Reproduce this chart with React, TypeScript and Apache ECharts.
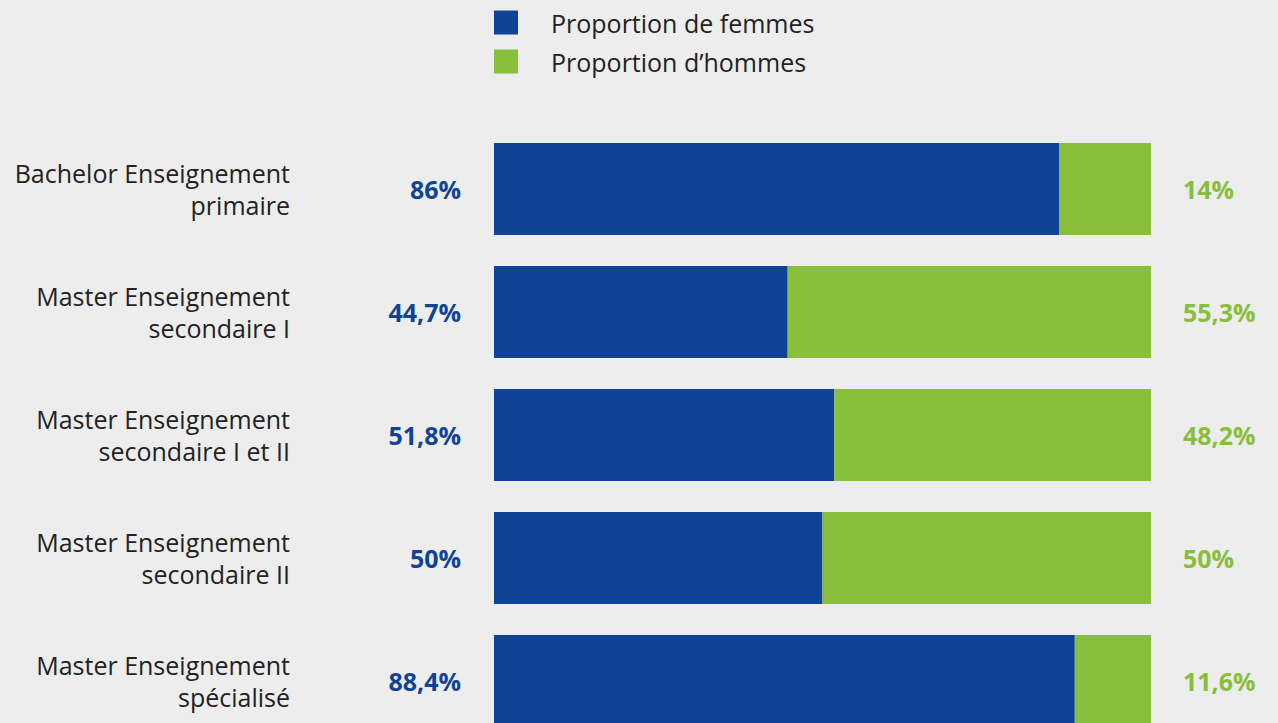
import React, { useEffect, useRef } from "react";
import * as echarts from "echarts";

const categories = [
  "Bachelor Enseignement\nprimaire",
  "Master Enseignement\nsecondaire I",
  "Master Enseignement\nsecondaire I et II",
  "Master Enseignement\nsecondaire II",
  "Master Enseignement\nspécialisé",
];
const femmes = [86, 44.7, 51.8, 50, 88.4];
const hommes = [14, 55.3, 48.2, 50, 11.6];
const seriesNames = ["Proportion de femmes", "Proportion d’hommes"];

const BLUE = "#0f4395";
const GREEN = "#87be3a";
const FONT = "'Open Sans', 'Noto Sans', sans-serif";

const fmt = (v: number) => String(v).replace(".", ",") + "%";

export default function App() {
  const ref = useRef<HTMLDivElement>(null);
  useEffect(() => {
    document.body.style.margin = "0";
    const chart = echarts.init(ref.current!, null, { renderer: "svg" });
    chart.setOption({
      animation: false,
      backgroundColor: "#ededed",
      legend: {
        orient: "vertical",
        left: 494,
        top: 10,
        padding: 0,
        itemWidth: 24,
        itemHeight: 24,
        itemGap: 14,
        icon: "rect",
        data: seriesNames,
        textStyle: {
          fontFamily: FONT,
          fontSize: 25,
          color: "#222",
          padding: [0, 0, 0, 28],
        },
      },
      grid: { left: 494, right: 127, top: 127.5, height: 615 },
      xAxis: {
        type: "value",
        min: 0,
        max: 100,
        show: false,
      },
      yAxis: {
        type: "category",
        inverse: true,
        data: categories,
        axisLine: { show: false },
        axisTick: { show: false },
        axisLabel: {
          margin: 204,
          align: "right",
          fontFamily: FONT,
          fontSize: 25,
          lineHeight: 32,
          color: "#222",
        },
      },
      series: [
        {
          name: seriesNames[0],
          type: "bar",
          stack: "total",
          data: femmes,
          barWidth: 92,
          itemStyle: { color: BLUE },
          label: {
            show: true,
            position: "left",
            distance: 33,
            formatter: (p: any) => fmt(p.value),
            fontFamily: FONT,
            fontWeight: "bold",
            fontSize: 25,
            color: BLUE,
          },
        },
        {
          name: seriesNames[1],
          type: "bar",
          stack: "total",
          data: hommes,
          barWidth: 92,
          itemStyle: { color: GREEN },
          label: {
            show: true,
            position: "right",
            distance: 32,
            formatter: (p: any) => fmt(p.value),
            fontFamily: FONT,
            fontWeight: "bold",
            fontSize: 25,
            color: GREEN,
          },
        },
      ],
    });
    return () => chart.dispose();
  }, []);
  return (
    <div style={{ width: 1278, height: 723, overflow: "hidden" }}>
      <div ref={ref} style={{ width: 1278, height: 760 }} />
    </div>
  );
}
